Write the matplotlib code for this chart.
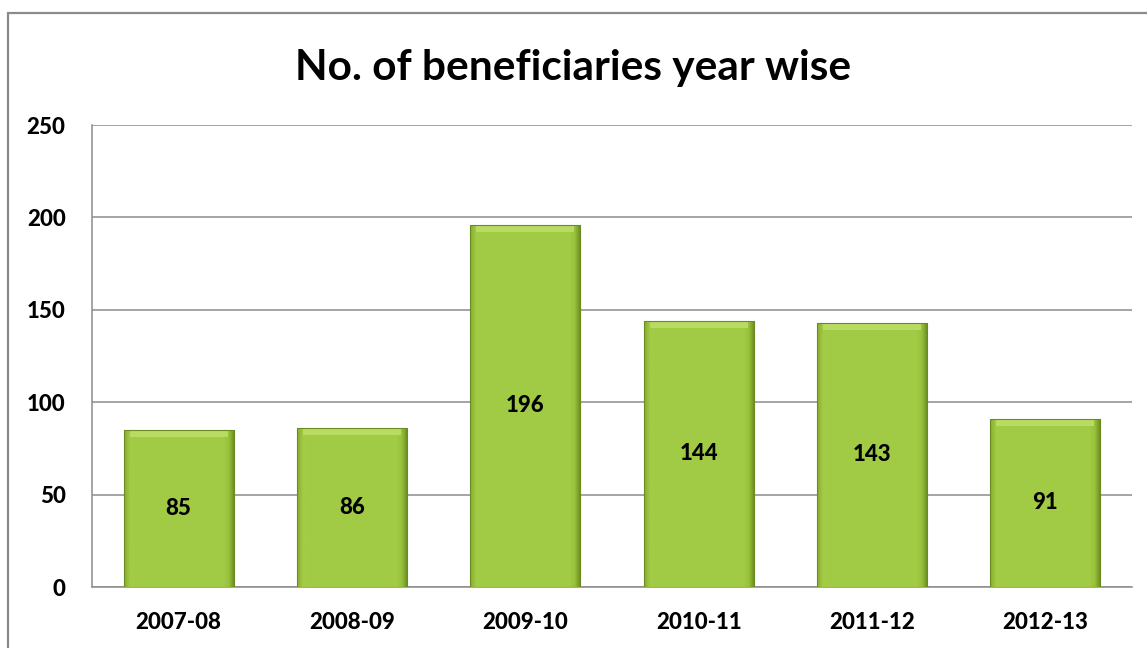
import numpy as np
import matplotlib.pyplot as plt
from matplotlib.patches import Rectangle
from matplotlib.colors import LinearSegmentedColormap

years = ['2007-08', '2008-09', '2009-10', '2010-11', '2011-12', '2012-13']
beneficiaries = [85, 86, 196, 144, 143, 91]
yticks = [0, 50, 100, 150, 200, 250]

plt.rcParams['font.family'] = ['Lato', 'DejaVu Sans']
LBL_WEIGHT = 900

W, H = 1147, 648
fig = plt.figure(figsize=(W / 100, H / 100), dpi=100)

# outer chart border, runs off the right and bottom edges
fig.patches.append(Rectangle((8 / W, -0.1), 1.2, 1 - 13 / H + 0.1,
                             transform=fig.transFigure, fill=False,
                             edgecolor='#8a8a8a', linewidth=1.6))

ax = fig.add_axes([92 / W, 1 - 587 / H, (1132 - 92) / W, (587 - 125) / H])
x = np.arange(len(years))
bw = 0.635

# shading for the bevelled bars: darker at the sides, lighter in the middle
green = LinearSegmentedColormap.from_list(
    'bev', ['#8aac30', '#a3cb46', '#a2cb46', '#98c23b', '#6b8a22'])
grad = np.tile(np.concatenate([np.linspace(0, 0.45, 10), np.full(80, 0.5),
                               np.linspace(0.55, 1, 10)]), (100, 1))

bars = ax.bar(x, beneficiaries, width=bw, color='#9cc63e', zorder=3,
              edgecolor='none')
for b, v in zip(bars, beneficiaries):
    x0 = b.get_x()
    im = ax.imshow(grad, cmap=green, aspect='auto', zorder=3.1,
                   extent=[x0, x0 + bw, 0, v], vmin=0, vmax=1)
    im.set_clip_path(b)
    # light strip along the top edge
    ax.add_patch(Rectangle((x0 + 0.035, v - 4), bw - 0.07, 4, facecolor='#b8db62',
                           edgecolor='none', zorder=3.2))
    ax.add_patch(Rectangle((x0, 0), bw, v, fill=False, edgecolor='#6a8a22',
                           linewidth=0.8, zorder=3.3))
    ax.text(b.get_x() + bw / 2, v / 2, str(v), ha='center', va='center',
            fontsize=16, fontweight=LBL_WEIGHT, color='black', zorder=4)

ax.set_xlim(-0.5, len(years) - 0.5)
ax.set_ylim(0, 250)
ax.set_yticks(yticks)
ax.set_xticks(x)
ax.set_xticklabels(years, fontweight=LBL_WEIGHT)
ax.set_yticklabels([str(t) for t in yticks], fontweight=LBL_WEIGHT)
ax.grid(axis='y', color='#8c8c8c', linewidth=1.1, zorder=0)
ax.tick_params(length=0, labelsize=16)
ax.tick_params(axis='x', pad=18)
ax.tick_params(axis='y', pad=19)
for s in ['top', 'right']:
    ax.spines[s].set_visible(False)
for s in ['left', 'bottom']:
    ax.spines[s].set_color('#8c8c8c')
    ax.spines[s].set_linewidth(1.1)

fig.text(573 / W, 1 - 68 / H, 'No. of beneficiaries year wise', ha='center',
         va='center', fontsize=30.5, fontweight='bold')

fig.savefig('out.png', dpi=100)
